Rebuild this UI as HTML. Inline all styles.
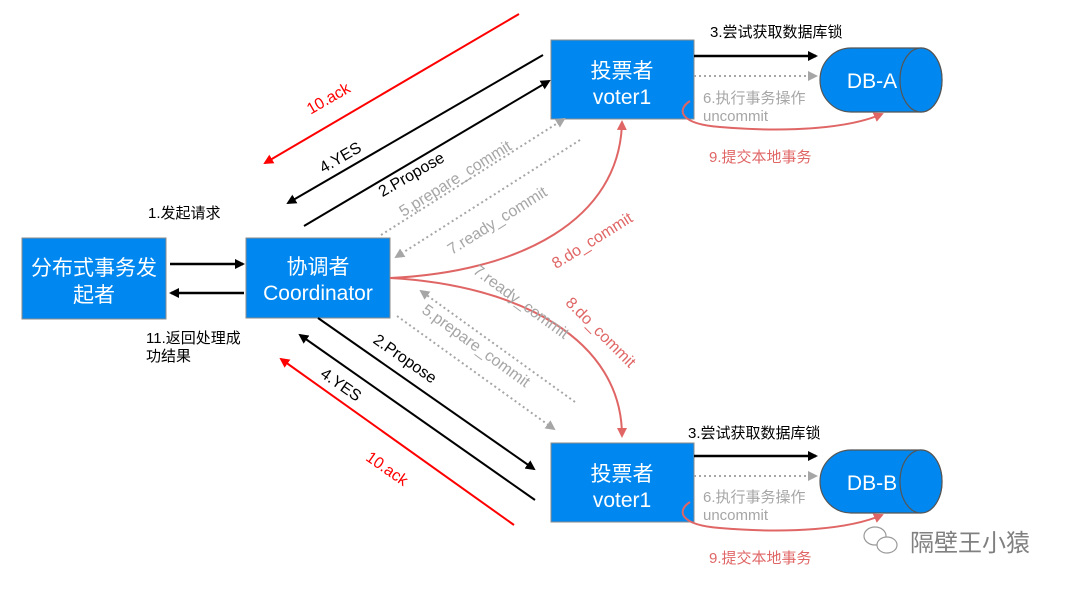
<!DOCTYPE html>
<html><head><meta charset="utf-8"><style>
body{margin:0;background:#fff;width:1080px;height:589px;overflow:hidden}
svg{display:block;font-family:"Liberation Sans","Noto Sans CJK SC",sans-serif}
</style></head><body>
<svg width="1080" height="589" viewBox="0 0 1080 589" xmlns="http://www.w3.org/2000/svg">
<defs>
<marker id="ab" markerWidth="10" markerHeight="10" refX="8" refY="5" orient="auto" markerUnits="userSpaceOnUse"><path d="M0,0 L10,5 L0,10 Z" fill="#000"/></marker>
<marker id="ar" markerWidth="10" markerHeight="10" refX="8" refY="5" orient="auto" markerUnits="userSpaceOnUse"><path d="M0,0 L10,5 L0,10 Z" fill="#f00"/></marker>
<marker id="ag" markerWidth="10" markerHeight="10" refX="8" refY="5" orient="auto" markerUnits="userSpaceOnUse"><path d="M0,0 L10,5 L0,10 Z" fill="#a6a6a6"/></marker>
<marker id="ap" markerWidth="10" markerHeight="10" refX="8" refY="5" orient="auto" markerUnits="userSpaceOnUse"><path d="M0,0 L10,5 L0,10 Z" fill="#e06666"/></marker>
</defs>
<g fill="#0088f0" stroke="#8a8a8a" stroke-width="1">
<rect x="22" y="238" width="144" height="81"/>
<rect x="246" y="238" width="144" height="80"/>
<rect x="551" y="40" width="143" height="79"/>
<rect x="551" y="443" width="143" height="79"/>
</g>
<g fill="#fff" font-size="21" text-anchor="middle">
<text x="94" y="275">分布式事务发</text><text x="94" y="302">起者</text>
<text x="318" y="274">协调者</text><text x="318" y="300">Coordinator</text>
<text x="622" y="78">投票者</text><text x="622" y="104">voter1</text>
<text x="622" y="481">投票者</text><text x="622" y="507">voter1</text>
</g>
<g fill="#0088f0" stroke="#555" stroke-width="1.2">
<path d="M851,48 H921 A21,32 0 0 1 921,112 H851 A31,32 0 0 1 851,48 Z"/>
<ellipse cx="921" cy="80" rx="21" ry="32"/>
<path d="M851,450 H921 A21,31.5 0 0 1 921,513 H851 A31,31.5 0 0 1 851,450 Z"/>
<ellipse cx="921" cy="481.5" rx="21" ry="31.5"/>
</g>
<g fill="#fff" font-size="21" text-anchor="middle">
<text x="872" y="88">DB-A</text><text x="872" y="490">DB-B</text>
</g>
<g stroke="#000" stroke-width="2.5" fill="none">
<line x1="170" y1="264" x2="243" y2="264" marker-end="url(#ab)"/>
<line x1="244" y1="293" x2="171" y2="293" marker-end="url(#ab)"/>
<line x1="694" y1="56" x2="816" y2="56" marker-end="url(#ab)"/>
<line x1="694" y1="456" x2="816" y2="456" marker-end="url(#ab)"/>
</g>
<g stroke="#000" stroke-width="2" fill="none">
<line x1="543" y1="55" x2="288" y2="203" marker-end="url(#ab)"/>
<line x1="304" y1="226" x2="549" y2="81" marker-end="url(#ab)"/>
<line x1="318" y1="318" x2="534" y2="469" marker-end="url(#ab)"/>
<line x1="535" y1="500" x2="300" y2="335" marker-end="url(#ab)"/>
</g>
<g stroke="#f00" stroke-width="2" fill="none">
<line x1="519" y1="14" x2="265" y2="163" marker-end="url(#ar)"/>
<line x1="514" y1="525" x2="281" y2="359" marker-end="url(#ar)"/>
</g>
<g stroke="#a6a6a6" stroke-width="2" stroke-dasharray="2,3" fill="none">
<line x1="381" y1="235" x2="564" y2="119" marker-end="url(#ag)"/>
<line x1="580" y1="140" x2="396" y2="257" marker-end="url(#ag)"/>
<line x1="575" y1="402" x2="421" y2="291" marker-end="url(#ag)"/>
<line x1="397" y1="316" x2="554" y2="429" marker-end="url(#ag)"/>
<line x1="694" y1="76" x2="816" y2="76" marker-end="url(#ag)"/>
<line x1="694" y1="476" x2="816" y2="476" marker-end="url(#ag)"/>
</g>
<g stroke="#e06666" stroke-width="2" fill="none">
<path d="M390,278 C520,272 620,220 622,122" marker-end="url(#ap)"/>
<path d="M390,278 C520,285 622,340 622,436" marker-end="url(#ap)"/>
<path d="M690,101 C676,110 680,124 720,127 C790,133 850,128 882,114" marker-end="url(#ap)"/>
<path d="M690,502 C676,511 680,525 720,528 C790,534 850,529 882,515" marker-end="url(#ap)"/>
</g>
<g font-size="15">
<text x="148" y="218" fill="#000">1.发起请求</text>
<text x="146" y="343" fill="#000">11.返回处理成</text>
<text x="146" y="361" fill="#000">功结果</text>
<text x="710" y="37" fill="#000">3.尝试获取数据库锁</text>
<text x="688" y="438" fill="#000">3.尝试获取数据库锁</text>
<text x="703" y="103" fill="#a6a6a6">6.执行事务操作</text>
<text x="703" y="121" fill="#a6a6a6">uncommit</text>
<text x="703" y="502" fill="#a6a6a6">6.执行事务操作</text>
<text x="703" y="520" fill="#a6a6a6">uncommit</text>
<text x="709" y="162" fill="#e06666">9.提交本地事务</text>
<text x="709" y="563" fill="#e06666">9.提交本地事务</text>
</g>
<g font-size="16" text-anchor="middle">
<text transform="translate(331,103) rotate(-30)" fill="#f00">10.ack</text>
<text transform="translate(343,162) rotate(-30)" fill="#000">4.YES</text>
<text transform="translate(414,179) rotate(-30)" fill="#000">2.Propose</text>
<text transform="translate(458,183) rotate(-32)" fill="#a6a6a6">5.prepare_commit</text>
<text transform="translate(500,225) rotate(-32)" fill="#a6a6a6">7.ready_commit</text>
<text transform="translate(595,245) rotate(-32)" fill="#e06666">8.do_commit</text>
<text transform="translate(518,306) rotate(36)" fill="#a6a6a6">7.ready_commit</text>
<text transform="translate(473,350) rotate(36)" fill="#a6a6a6">5.prepare_commit</text>
<text transform="translate(597,336) rotate(45)" fill="#e06666">8.do_commit</text>
<text transform="translate(402,363) rotate(35)" fill="#000">2.Propose</text>
<text transform="translate(338,389) rotate(35)" fill="#000">4.YES</text>
<text transform="translate(384,473) rotate(35)" fill="#f00">10.ack</text>
</g>
<g fill="none" stroke="#999" stroke-width="1.2">
<ellipse cx="875" cy="536" rx="11" ry="9"/>
<ellipse cx="887" cy="545" rx="10" ry="8" fill="#fff"/>
</g>
<text x="910" y="551" font-size="24" fill="#808080">隔壁王小猿</text>
</svg>
</body></html>
